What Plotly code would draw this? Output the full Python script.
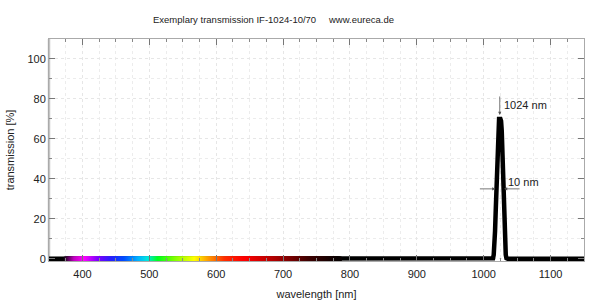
import numpy as np
import plotly.graph_objects as go

# ---- data ----
wavelengths_nm = [350, 1012, 1014, 1015, 1016, 1017, 1018, 1019, 1020, 1021, 1022, 1023,
                  1025, 1026, 1027, 1028, 1029, 1030, 1031, 1032, 1033, 1034, 1036, 1150]
transmission_pct = [0, 0, 0.3, 2, 6, 14, 24, 35, 52, 64, 69, 70,
                    70, 69, 64, 52, 35, 24, 14, 6, 2, 0.3, 0, 0]

spectrum_nm = [375, 390, 405, 425, 445, 465, 485, 500, 515, 540, 570, 590, 615, 645, 690, 740, 785]
spectrum_col = ["#140814", "#c000c0", "#ff00ff", "#8000ff", "#2a20ff", "#0050ff", "#00b0ff",
                "#00e8e0", "#00ff20", "#80ff00", "#ffff00", "#ffa000", "#ff3000", "#ff0000",
                "#b00000", "#400000", "#080000"]

x_ticks = [400, 500, 600, 700, 800, 900, 1000, 1100]
y_ticks = [0, 20, 40, 60, 80, 100]

FONT = "Liberation Sans, Arial, sans-serif"
L, R, T = 49, 16, 39
W, H = 600, 300
y_lo, y_hi = -1.1, 110
plot_h = 222.2
B = H - T - plot_h

lo, hi = spectrum_nm[0], spectrum_nm[-1]
cscale = [[(w - lo) / (hi - lo), c] for w, c in zip(spectrum_nm, spectrum_col)]
spec_x = np.arange(lo, hi + 0.5, 0.5)

fig = go.Figure()
fig.add_trace(go.Scatter(x=wavelengths_nm, y=transmission_pct, mode="lines",
                         line=dict(color="black", width=4.5), hoverinfo="skip"))
fig.add_trace(go.Scatter(x=spec_x, y=np.zeros_like(spec_x), mode="markers",
                         marker=dict(symbol="square", size=4, color=spec_x,
                                     colorscale=cscale, cmin=lo, cmax=hi,
                                     line=dict(width=0)),
                         hoverinfo="skip"))

grid = dict(gridcolor="#e6e6e6", griddash="dot", gridwidth=1)
mgrid = dict(showgrid=True, gridcolor="#ececec", griddash="dot")
fig.update_xaxes(range=[350, 1150], tickvals=x_ticks, ticks="inside", ticklen=6,
                 tickcolor="#777", showline=True, linecolor="#aaa", linewidth=1,
                 mirror="allticks", showgrid=True, automargin=False, **grid,
                 minor=dict(dtick=25, tick0=350, ticks="inside", ticklen=3, tickcolor="#888",
                            **mgrid),
                 tickfont=dict(family=FONT, size=11, color="#222"),
                 ticklabelstandoff=3,
                 title=dict(text="wavelength [nm]", font=dict(family=FONT, size=11, color="#222"),
                            standoff=12),
                 zeroline=False)
fig.update_yaxes(range=[y_lo, y_hi], tickvals=y_ticks, ticks="inside", ticklen=6,
                 tickcolor="#777", showline=True, linecolor="#aaa", linewidth=1,
                 mirror="allticks", showgrid=True, automargin=False, **grid,
                 minor=dict(dtick=10, tick0=0, ticks="inside", ticklen=3, tickcolor="#888",
                            **mgrid),
                 tickfont=dict(family=FONT, size=11, color="#222"),
                 title=dict(text="transmission [%]", font=dict(family=FONT, size=11, color="#222"),
                            standoff=10),
                 zeroline=False)

# thicker left frame
fig.add_shape(type="line", xref="paper", yref="paper", x0=0, x1=0, y0=0, y1=1,
              line=dict(color="#c4c4c4", width=2.5), layer="below")

def px_x(p):
    return (p - L) / (W - L - R)

def px_y(p):
    return (H - B - p) / plot_h

anns = [
    dict(text="Exemplary transmission IF-1024-10/70", xref="paper", yref="paper",
         x=px_x(234), y=px_y(19), xanchor="center", yanchor="middle", showarrow=False,
         font=dict(family=FONT, size=9.5, color="#222")),
    dict(text="www.eureca.de", xref="paper", yref="paper",
         x=px_x(360.5), y=px_y(19), xanchor="center", yanchor="middle", showarrow=False,
         font=dict(family=FONT, size=9.5, color="#222")),
    dict(text="1024 nm", xref="paper", yref="paper", x=px_x(502), y=px_y(105),
         xanchor="left", yanchor="middle", showarrow=False,
         font=dict(family=FONT, size=11, color="#222")),
    dict(text="10 nm", xref="paper", yref="paper", x=px_x(506), y=px_y(182),
         xanchor="left", yanchor="middle", showarrow=False,
         font=dict(family=FONT, size=11, color="#222")),
    dict(text="", x=1024, y=72, xref="x", yref="y", showarrow=True, ax=0, ay=-20,
         arrowhead=2, arrowsize=0.8, arrowwidth=0.8, arrowcolor="#555"),
    dict(text="", x=1017.5, y=35, xref="x", yref="y", showarrow=True, ax=-17, ay=0,
         arrowhead=2, arrowsize=0.8, arrowwidth=0.8, arrowcolor="#555"),
    dict(text="", x=1030.5, y=35, xref="x", yref="y", showarrow=True, ax=17, ay=0,
         arrowhead=2, arrowsize=0.8, arrowwidth=0.8, arrowcolor="#555"),
]
fig.update_layout(annotations=anns)

fig.update_layout(width=W, height=H, margin=dict(l=L, r=R, t=T, b=B, pad=0),
                  paper_bgcolor="white", plot_bgcolor="white", showlegend=False)

fig.write_html("out.html")
